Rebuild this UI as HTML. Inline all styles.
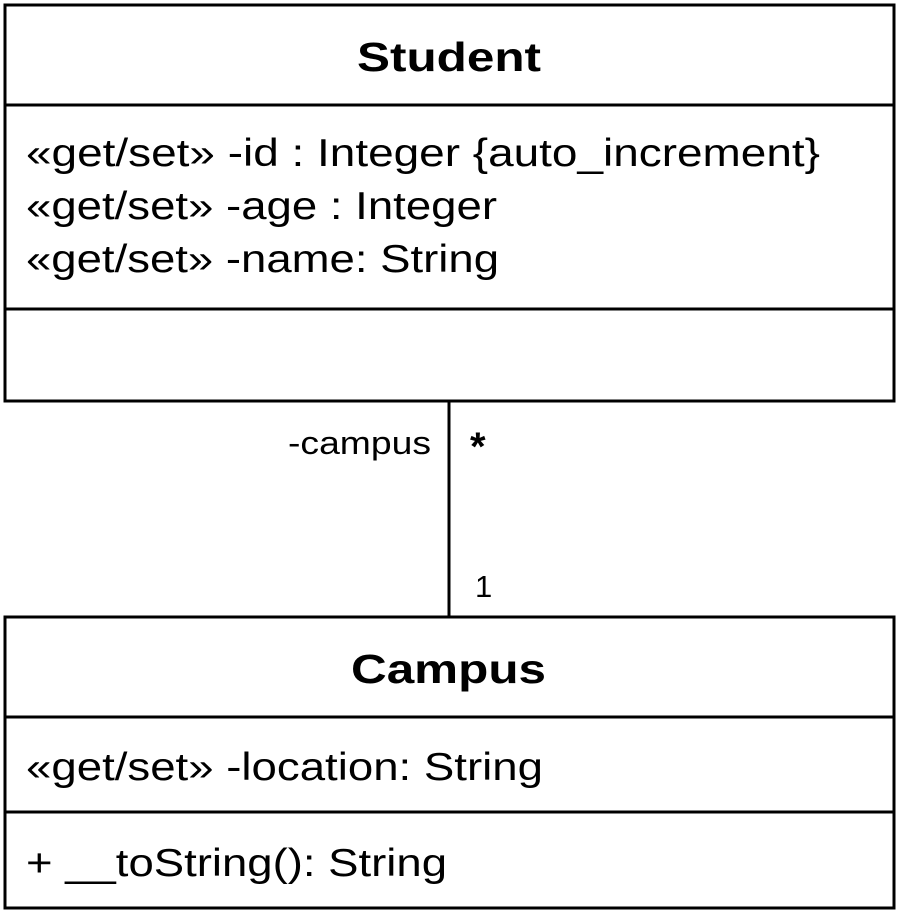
<!DOCTYPE html>
<html><head><meta charset="utf-8"><style>html,body{margin:0;padding:0;background:#fff}svg{display:block}</style></head>
<body>
<svg width="899" height="912" viewBox="0 0 899 912" xmlns="http://www.w3.org/2000/svg" font-family="Liberation Sans, Arial, sans-serif" fill="#000">
<g fill="none" stroke="#000" stroke-width="3">
<rect x="5" y="5" width="889" height="396"/>
<line x1="5" y1="105" x2="894" y2="105"/>
<line x1="5" y1="309" x2="894" y2="309"/>
<rect x="5" y="617" width="889" height="291"/>
<line x1="5" y1="717" x2="894" y2="717"/>
<line x1="5" y1="812" x2="894" y2="812"/>
<line x1="449" y1="401" x2="449" y2="617"/>
</g>
<text x="357" y="71" font-size="41" font-weight="bold" textLength="184" lengthAdjust="spacingAndGlyphs">Student</text>
<text x="26" y="166" font-size="39" textLength="794" lengthAdjust="spacingAndGlyphs">«get/set» -id : Integer {auto_increment}</text>
<text x="26" y="219" font-size="39" textLength="471" lengthAdjust="spacingAndGlyphs">«get/set» -age : Integer</text>
<text x="26" y="272" font-size="39" textLength="473" lengthAdjust="spacingAndGlyphs">«get/set» -name: String</text>
<text x="288" y="454" font-size="32" textLength="143" lengthAdjust="spacingAndGlyphs">-campus</text>
<text x="470" y="460" font-size="40" font-weight="bold">*</text>
<text x="475" y="597" font-size="31">1</text>
<text x="351" y="683" font-size="41" font-weight="bold" textLength="195" lengthAdjust="spacingAndGlyphs">Campus</text>
<text x="26" y="780" font-size="39" textLength="517" lengthAdjust="spacingAndGlyphs">«get/set» -location: String</text>
<text x="26" y="876" font-size="39" textLength="421" lengthAdjust="spacingAndGlyphs">+ __toString(): String</text>
</svg>
</body></html>
